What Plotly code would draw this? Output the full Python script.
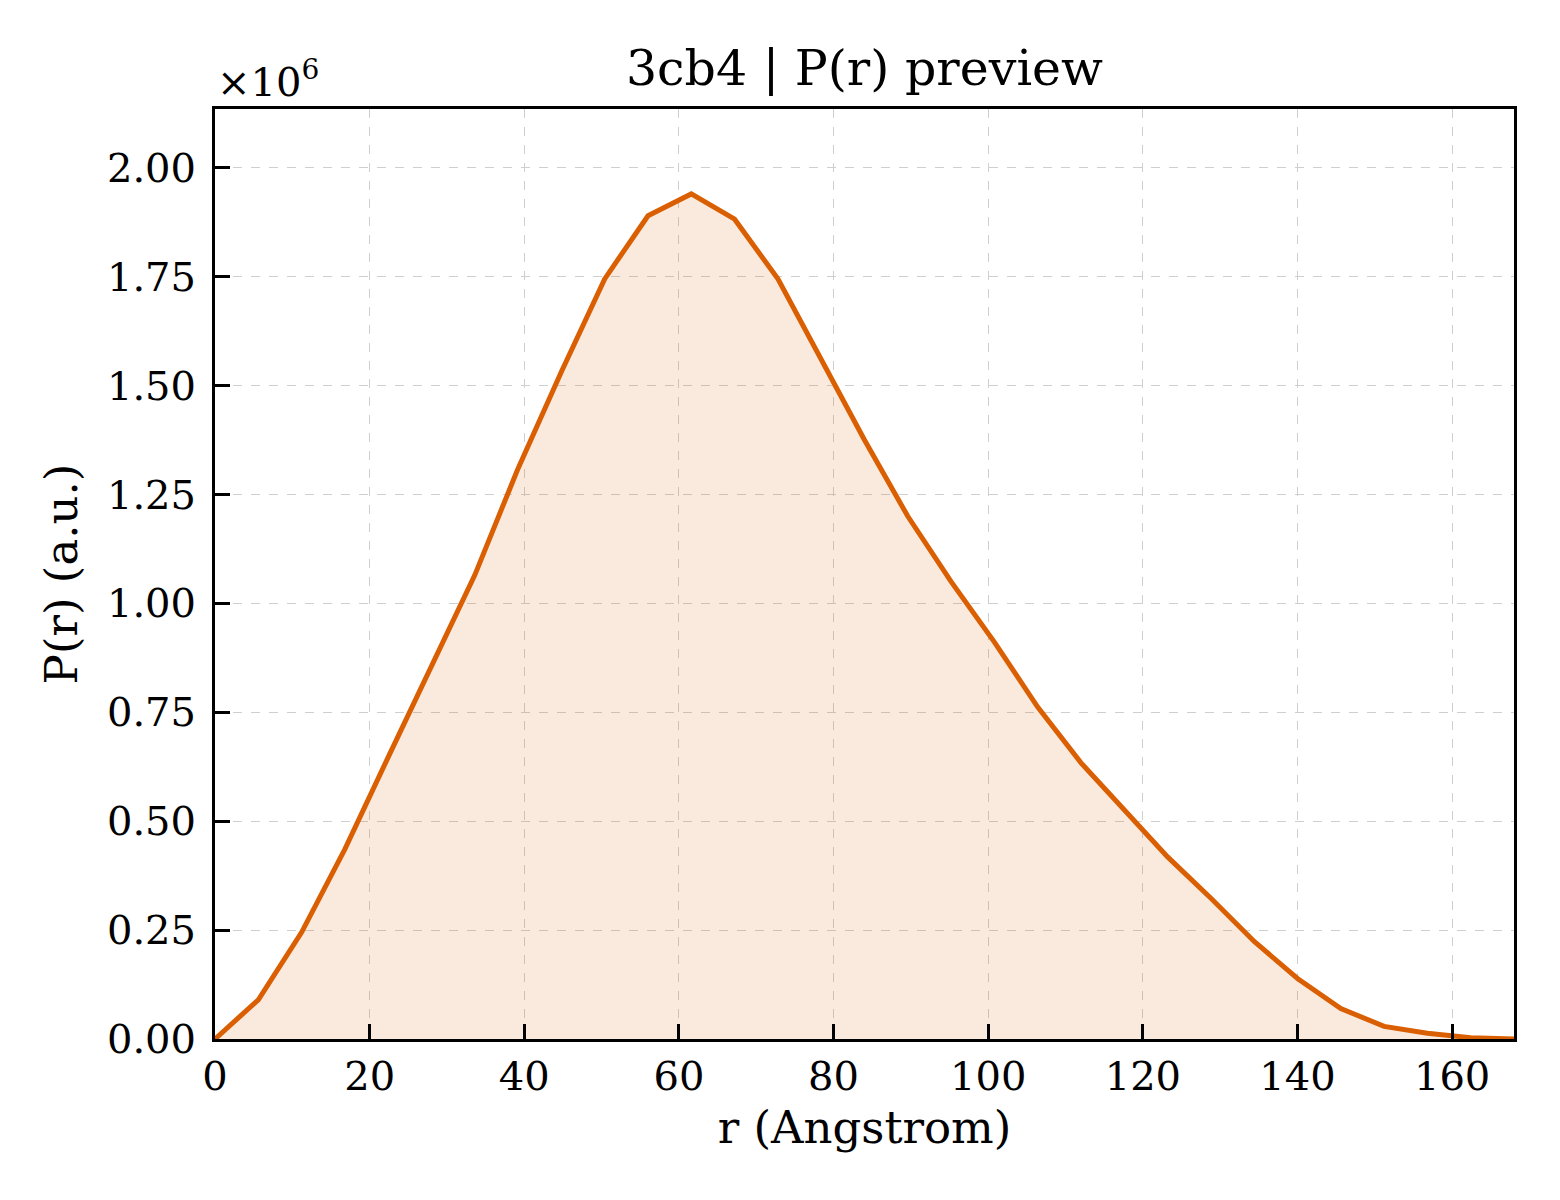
import plotly.graph_objects as go

# P(r) distribution (y in units of 1e6)
r_angstrom = [0.0, 5.6, 11.2, 16.8, 22.4, 28.0, 33.6, 39.2, 44.8, 50.4,
              56.0, 61.6, 67.2, 72.8, 78.4, 84.0, 89.6, 95.2, 100.8, 106.4,
              112.0, 117.6, 123.2, 128.8, 134.4, 140.0, 145.6, 151.2, 156.8, 162.4, 168.0]
p_r_e6 = [0.0, 0.09, 0.245, 0.436, 0.647, 0.858, 1.065, 1.31, 1.532, 1.745,
          1.89, 1.94, 1.882, 1.745, 1.56, 1.375, 1.20, 1.05, 0.911, 0.762,
          0.634, 0.524, 0.418, 0.323, 0.224, 0.139, 0.070, 0.029, 0.013, 0.003, 0.0]
y_ticks = [0.0, 0.25, 0.5, 0.75, 1.0, 1.25, 1.5, 1.75, 2.0]
x_ticks = [0, 20, 40, 60, 80, 100, 120, 140, 160]

line_col = "#D95F02"
font_fam = "DejaVu Serif"

fig = go.Figure()
fig.add_trace(go.Scatter(
    x=r_angstrom, y=p_r_e6, mode="lines",
    line=dict(color=line_col, width=5),
    fill="tozeroy", fillcolor="rgba(217,95,2,0.13)",
    showlegend=False))

axis_common = dict(
    showline=True, linecolor="black", linewidth=3, mirror=True,
    ticks="inside", ticklen=15, tickwidth=2.5, tickcolor="black",
    showgrid=True, gridcolor="#cfcfcf", gridwidth=1.2, griddash="dash",
    zeroline=False, tickfont=dict(size=40, color="black", family=font_fam),
)

fig.update_xaxes(axis_common, range=[0, 168], tickvals=x_ticks,
                 title=dict(text="r (Angstrom)", font=dict(size=45, family=font_fam, color="black"), standoff=14))
fig.update_yaxes(axis_common, range=[0, 2.135], tickvals=y_ticks, tickformat=".2f",
                 ticklabelstandoff=8,
                 title=dict(text="P(r) (a.u.)", font=dict(size=45, family=font_fam, color="black"), standoff=16))

fig.add_annotation(text="×10<sup>6</sup>", xref="paper", yref="paper", x=0, y=1.0,
                   xanchor="left", yanchor="bottom", yshift=2, showarrow=False,
                   font=dict(size=40, family=font_fam, color="black"))

fig.update_layout(
    width=1560, height=1200,
    margin=dict(l=207, r=54, t=101, b=169),
    plot_bgcolor="white", paper_bgcolor="white",
    title=dict(text="3cb4 | P(r) preview", x=0.5, xref="paper", xanchor="center",
               y=1 - 60 / 1200, yanchor="middle",
               font=dict(size=49, family=font_fam, color="black")),
)

fig.write_html("out.html")
